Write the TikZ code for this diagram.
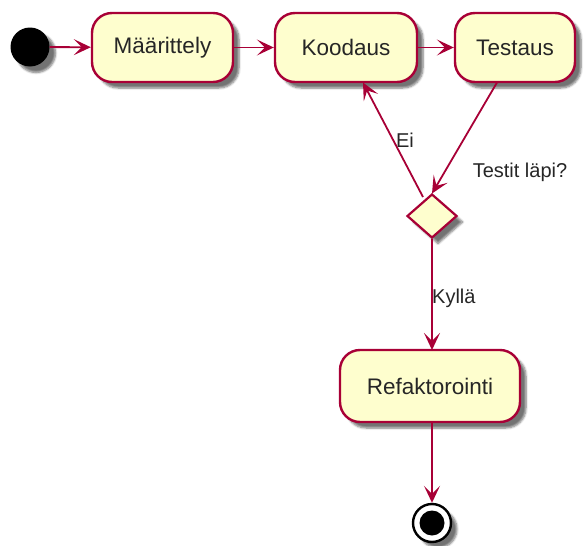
\documentclass[tikz,border=0pt]{standalone}
\usepackage{fontspec}
\setmainfont{Liberation Sans}
\usetikzlibrary{shapes.geometric,arrows.meta,shadows.blur}
\definecolor{pfill}{HTML}{FEFECE}
\definecolor{pline}{HTML}{A80036}
\tikzset{
  shad/.style={blur shadow={shadow xshift=6pt,shadow yshift=-6pt,shadow blur steps=6,shadow opacity=55}},
  actbox/.style={draw=pline,fill=pfill,line width=2.4pt,rounded corners=20pt,inner sep=0pt,
     font=\fontsize{22.5}{26}\selectfont,text=black!85,shad},
  decbox/.style={draw=pline,fill=pfill,line width=2.2pt,diamond,inner sep=0pt,
     minimum width=50pt,minimum height=44pt,shad},
  flow/.style={draw=pline,line width=1.8pt,-{Stealth[length=17pt,width=16pt,inset=8pt]}},
  lbl/.style={font=\fontsize{20}{23}\selectfont,text=black!85,inner sep=0pt}
}
\begin{document}
\begin{tikzpicture}[x=1pt,y=-1pt]
\useasboundingbox (0,0) rectangle (587,546);
\node[circle,fill=black,minimum size=39pt,inner sep=0pt,shad] (start) at (30,47) {};
\node[actbox,minimum width=141pt,minimum height=69pt] (maar) at (162.5,47.5) {Määrittely};
\node[actbox,minimum width=142pt,minimum height=69pt] (kood) at (346,47.5) {Koodaus};
\node[actbox,minimum width=120pt,minimum height=69pt] (test) at (515,47.5) {Testaus};
\node[decbox] (dec) at (432,216) {};
\node[actbox,minimum width=180pt,minimum height=72pt] (ref) at (430,386) {Refaktorointi};
\node[circle,draw=black,line width=2.4pt,fill=white,minimum size=38pt,inner sep=0pt,shad] (end) at (432,523) {};
\node[circle,fill=black,minimum size=25pt,inner sep=0pt] (endin) at (end.center) {};
\coordinate (kb) at (363,82.5);
\coordinate (tb) at (497,82.5);
\coordinate (dl) at (423,197);
\coordinate (dt) at (432,193.5);
\coordinate (rt) at (432,350);
\draw[flow] (start) -- (maar);
\draw[flow] (maar) -- (kood);
\draw[flow] (kood) -- (test);
\draw[flow] (tb) -- (dt);
\draw[flow] (dl) -- (kb);
\draw[flow] (dec.south) -- (rt);
\draw[flow] (ref.south -| end.north) -- (end.north);
\node[lbl] (ei) at (405,140) {Ei};
\node[lbl] (tl) at (520,172) {Testit läpi?};
\node[lbl,anchor=west] (ky) at (432,298) {Kyllä};
\end{tikzpicture}
\end{document}
